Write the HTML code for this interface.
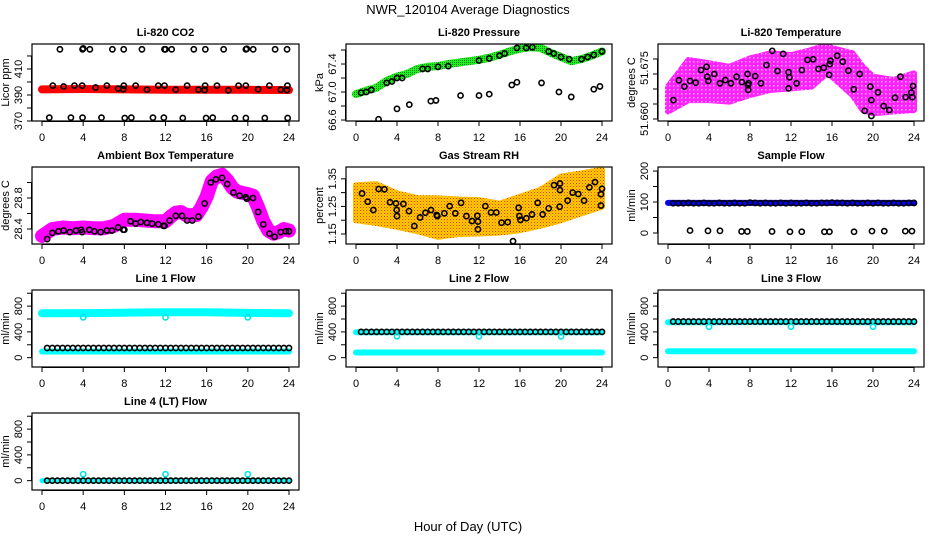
<!DOCTYPE html>
<html><head><meta charset="utf-8"><style>
html,body{margin:0;padding:0;background:#fff}
svg{display:block;font-family:"Liberation Sans",sans-serif}
</style></head><body>
<svg id="chart" width="936" height="540" viewBox="0 0 936 540" xmlns="http://www.w3.org/2000/svg">
<defs>
<pattern id="rhPat" width="3" height="3" patternUnits="userSpaceOnUse"><rect width="3" height="3" fill="#ffd000"/><rect width="1" height="1" fill="#ff3000"/><rect x="1.5" y="1.5" width="1" height="1" fill="#ff6000"/></pattern>
<pattern id="grPat" width="2" height="2" patternUnits="userSpaceOnUse"><rect width="2" height="2" fill="#22ee22"/><rect width="1" height="1" fill="#118811"/></pattern>
<pattern id="mgPat" width="4" height="4" patternUnits="userSpaceOnUse"><rect width="4" height="4" fill="#ff22ff"/><rect x="1" y="1" width="1.5" height="1.5" fill="#ffb0ff"/></pattern>
</defs>
<text x="468" y="14" text-anchor="middle" font-size="13">NWR_120104  Average Diagnostics</text>
<text x="468" y="531" text-anchor="middle" font-size="13">Hour of Day (UTC)</text>
</svg>
<script>
// ---------- data ----------
const hourTicks = [0,4,8,12,16,20,24];
const halfHours = [0.5,1,1.5,2,2.5,3,3.5,4,4.5,5,5.5,6,6.5,7,7.5,8,8.5,9,9.5,10,10.5,11,11.5,12,12.5,13,13.5,14,14.5,15,15.5,16,16.5,17,17.5,18,18.5,19,19.5,20,20.5,21,21.5,22,22.5,23,23.5,24];

// CO2
const co2BandHours = [0,4,8,12,16,20,24];
const co2BandValues = [394.3,394.6,394.3,394.0,394.0,394.0,393.8];
const co2MidHours = [1.05,2.1,3.15,3.9,5.2,6.3,7.4,7.9,7.95,9.1,10.2,11.3,11.9,13.0,14.1,15.2,15.8,15.85,17.0,18.1,19.1,19.8,21.0,22.1,23.2,23.8,23.85];
const co2MidValues = [397.2,396.5,397.2,397.2,395.7,397.2,394.9,394.4,397.2,397.2,394.1,397.2,397.2,394.1,397.2,394.1,393.8,397.2,397.2,393.6,397.2,397.2,394.4,397.2,394.1,393.8,397.2];
const co2HighHours = [1.74,3.94,4.0,4.65,6.84,7.94,9.71,11.9,12.0,12.6,14.75,15.87,17.65,19.81,19.9,20.52,22.65,23.81];
const co2HighValues = [425.1,425.1,425.8,425.1,425.1,425.1,425.1,425.1,425.1,425.1,425.1,425.1,425.1,425.1,425.5,425.1,425.1,425.1];
const co2LowHours = [0.71,2.81,3.94,5.78,8.04,8.68,10.78,11.84,13.68,15.94,16.59,18.75,19.81,21.65,23.87];
const co2LowValues = [372.6,372.6,372.6,372.6,372.3,372.6,372.6,372.6,372.3,372.3,372.6,372.3,372.3,372.3,372.3];

// Pressure
const presBandHours = [0,1,2,3,4,5,6,7,8,9,10,11,12,13,14,15,16,17,18,19,20,21,22,23,24];
const presBandValues = [66.97,67.02,67.06,67.16,67.22,67.26,67.33,67.36,67.37,67.40,67.42,67.44,67.46,67.49,67.53,67.58,67.62,67.64,67.63,67.56,67.50,67.44,67.47,67.52,67.58];
const presOnHours = [0.5,1,1.5,3,3.5,4,4.5,6.5,7,8,9,12,13,14,14.5,15.7,16.6,17.2,18.8,19.3,20,20.8,22,22.6,23.2,24];
const presOnValues = [66.99,67.0,67.03,67.13,67.15,67.2,67.2,67.33,67.33,67.36,67.37,67.45,67.48,67.52,67.55,67.63,67.63,67.64,67.58,67.55,67.5,67.47,67.47,67.5,67.53,67.58];
const presLowHours = [2.2,4.0,5.2,7.3,7.8,10.2,12.0,13.0,15.2,15.7,18.1,19.8,21.0,23.2,23.8];
const presLowValues = [66.61,66.76,66.82,66.87,66.88,66.95,66.95,66.97,67.1,67.14,67.13,67.0,66.93,67.04,67.08];

// Li-820 temperature
const tempBandHours = [0,2,4,6,8,10,12,14,15.5,16,18,19,20,22,24];
const tempBandUpper = [51.6708,51.6797,51.6786,51.6774,51.6802,51.6819,51.6813,51.6830,51.6847,51.6836,51.6819,51.6774,51.6741,51.6730,51.6752];
const tempBandLower = [51.6625,51.6663,51.6663,51.6658,51.6680,51.6697,51.6702,51.6708,51.6752,51.6741,51.6680,51.6630,51.6619,51.6625,51.6630];
const tempHours = [0.52,1.07,1.59,2.15,2.7,3.22,3.77,3.83,3.93,4.52,5.07,5.59,6.14,6.69,7.21,7.76,7.86,7.8,7.82,8.51,9.06,9.61,10.17,10.68,11.24,11.76,11.85,11.76,12.54,13.06,13.61,14.16,14.68,15.2,15.72,15.78,15.85,16.5,17.05,17.6,18.12,18.7,19.19,19.74,19.84,19.84,20.49,21.04,21.59,22.15,22.67,23.18,23.74,23.9,23.83];
const tempValues = [51.6663,51.6729,51.6708,51.6727,51.6721,51.6763,51.6774,51.6741,51.6727,51.6750,51.6719,51.6730,51.6719,51.6741,51.6723,51.6750,51.6719,51.6713,51.6697,51.6743,51.6719,51.6780,51.6827,51.6760,51.6817,51.6756,51.6739,51.6702,51.6719,51.6763,51.6797,51.6799,51.6767,51.6771,51.6747,51.6783,51.6794,51.6811,51.6791,51.6761,51.6699,51.6750,51.6627,51.6708,51.6663,51.6610,51.6689,51.6643,51.6630,51.6671,51.6741,51.6673,51.6688,51.6710,51.6673];

// Ambient box temperature
const ambBandHours = [0,1,2,3,4,5,6,7,8,9,10,11,12,12.5,13,13.5,14,15,15.5,16,16.5,17,17.5,18,18.5,19,20,20.5,21,21.5,22,22.5,23,23.5,24];
const ambBandValues = [28.31,28.40,28.42,28.41,28.42,28.41,28.41,28.44,28.52,28.52,28.51,28.50,28.50,28.56,28.61,28.62,28.58,28.58,28.68,28.82,29.02,29.08,29.10,29.03,28.93,28.88,28.85,28.83,28.68,28.50,28.38,28.34,28.36,28.40,28.38];
const ambHours = [0.5,1,1.6,2.1,2.7,3.3,3.8,3.9,4.6,5.1,5.7,6.3,6.8,7.4,7.9,8.0,8.6,9.1,9.6,10.2,10.7,11.3,11.8,11.9,12.4,13.0,13.6,14.1,14.6,15.2,15.8,16.4,16.9,17.5,18.0,18.6,19.2,19.8,19.9,20.5,21.0,21.5,22.1,22.6,23.2,23.7,24.0];
const ambValues = [28.27,28.35,28.37,28.38,28.36,28.38,28.39,28.36,28.39,28.37,28.36,28.38,28.38,28.42,28.39,28.39,28.50,28.47,28.49,28.48,28.47,28.46,28.44,28.44,28.51,28.57,28.57,28.51,28.51,28.56,28.73,29.00,29.04,29.06,28.98,28.87,28.83,28.81,28.79,28.80,28.62,28.46,28.34,28.30,28.36,28.37,28.37];

// Gas stream RH
const rhBandHours = [0,2,4,6,8,10,12,14,16,18,20,22,24];
const rhBandUpper = [1.327,1.33,1.297,1.28,1.279,1.275,1.273,1.26,1.285,1.31,1.358,1.37,1.382];
const rhBandLower = [1.20,1.19,1.176,1.16,1.14,1.15,1.152,1.155,1.164,1.18,1.20,1.225,1.249];
const rhHours = [0.59,1.14,1.69,2.21,2.77,3.32,3.9,3.97,4.0,4.62,5.17,5.69,6.25,6.77,7.32,7.87,7.94,8.62,9.14,9.69,10.25,10.77,11.32,11.84,11.9,11.9,12.62,13.17,13.69,14.2,14.8,15.32,15.87,15.94,16.04,16.62,17.17,17.73,18.21,18.8,19.32,19.87,19.9,19.9,20.65,21.14,21.69,22.25,22.77,23.32,23.9,24.0,23.9];
const rhValues = [1.297,1.267,1.237,1.313,1.312,1.265,1.261,1.237,1.215,1.259,1.233,1.179,1.210,1.227,1.237,1.219,1.215,1.225,1.251,1.225,1.263,1.215,1.197,1.216,1.195,1.167,1.251,1.228,1.228,1.191,1.193,1.124,1.245,1.215,1.201,1.207,1.221,1.263,1.221,1.243,1.327,1.249,1.333,1.309,1.271,1.300,1.295,1.271,1.319,1.338,1.294,1.314,1.253];

// Sample flow
const sampBandHours = [0,24];
const sampBandValues = [97,97];
const sampValues = [96,96,96,97,96,96,97,96,96,97,96,96,97,96,96,98,97,96,97,96,96,97,96,97,96,96,97,96,96,97,97,98,97,97,96,97,96,96,97,96,97,96,96,97,96,96,97,97];
const sampLowHours = [2.15,3.9,5.07,7.18,7.74,10.15,11.9,13.05,15.26,15.75,18.15,19.9,21.1,23.15,23.8];
const sampLowValues = [8,7,7,5,5,5,4,4,4,4,4,6,6,6,6];

// Line flows
const outlierHours = [4,12,20];
const line1HiHours = [0,4,8,12,16,20,24];
const line1HiValues = [690,692,698,705,705,695,690];
const line1LoValues = [95,95,95,95,95,95,95];
const line1Black = [150,150,150,150,150,150,150,150,150,150,150,150,150,150,150,150,150,150,150,150,150,150,150,150,150,150,150,150,150,150,150,150,150,150,150,150,150,150,150,150,150,150,150,150,150,150,150,150];
const line1Outliers = [625,625,625];
const line2HiValues = [395,395,395,395,395,395,395];
const line2LoValues = [80,80,80,80,80,80,80];
const line2Black = [400,400,400,400,400,400,400,400,400,400,400,400,400,400,400,400,400,400,400,400,400,400,400,400,400,400,400,400,400,400,400,400,400,400,400,400,400,400,400,400,400,400,400,400,400,400,400,400];
const line2Outliers = [330,330,330];
const line3HiValues = [548,550,552,552,552,550,550];
const line3LoValues = [100,100,100,100,100,100,100];
const line3Black = [560,560,560,560,560,560,560,560,560,560,560,560,560,560,560,560,560,560,560,560,560,560,560,560,560,560,560,560,560,560,560,560,560,560,560,560,560,560,560,560,560,560,560,560,560,560,560,560];
const line3Outliers = [480,480,480];
const line4CyanValues = [0,0,0,0,0,0,0];
const line4Black = [0,0,0,0,0,0,0,0,0,0,0,0,0,0,0,0,0,0,0,0,0,0,0,0,0,0,0,0,0,0,0,0,0,0,0,0,0,0,0,0,0,0,0,0,0,0,0,0];
const line4Outliers = [100,100,100];

// ---------- drawing ----------
const NS = 'http://www.w3.org/2000/svg';
const svg = document.getElementById('chart');
function mk(tag, attrs, parent){
  const e = document.createElementNS(NS, tag);
  for (const k in attrs) e.setAttribute(k, attrs[k]);
  (parent || svg).appendChild(e);
  return e;
}
function sx(p,h){ return p.L + 10 + h*(p.R - p.L - 20)/24; }
function sy(p,v){ return p.B - (v - p.ymin)/(p.ymax - p.ymin)*(p.B - p.T); }

function panel(p){
  const g = mk('g', {});
  
  
  p.g = g;
  const t = mk('text', {x:(p.L+p.R)/2, y:p.T-8, 'text-anchor':'middle', 'font-size':11, 'font-weight':'bold'}, g);
  t.textContent = p.title;
  
  
  const clip = mk('clipPath', {id:'clip-'+p.name}, g);
  mk('rect', {x:p.L, y:p.T, width:p.R-p.L, height:p.B-p.T}, clip);
  const plot = mk('g', {'clip-path':'url(#clip-'+p.name+')'}, g);
  
  
  p.plot = plot;
  const xa = mk('g', {stroke:'#000', 'stroke-width':1}, g);
  
  
  mk('line', {x1:sx(p,0), x2:sx(p,24), y1:p.B+0.5, y2:p.B+0.5}, xa);
  hourTicks.forEach(h => {
    mk('line', {x1:sx(p,h), x2:sx(p,h), y1:p.B, y2:p.B+5}, xa);
    const lt = mk('text', {x:sx(p,h), y:p.B+20, 'text-anchor':'middle', 'font-size':11, stroke:'none'}, xa);
    lt.textContent = h;
    
    
  });
  const ya = mk('g', {stroke:'#000', 'stroke-width':1}, g);
  
  
  mk('line', {x1:p.L-0.5, x2:p.L-0.5, y1:sy(p,p.ticks[0]), y2:sy(p,p.ticks[p.ticks.length-1])}, ya);
  p.ticks.forEach(v => mk('line', {x1:p.L-5, x2:p.L, y1:sy(p,v), y2:sy(p,v)}, ya));
  p.labels.forEach((v,i) => {
    const y = sy(p,v), x = p.L - 10;
    const lt = mk('text', {x:x, y:y, 'text-anchor':'middle', 'font-size':11, stroke:'none', transform:'rotate(-90 '+x+' '+y+')'}, ya);
    lt.textContent = p.labelText[i];
    
    
  });
  const yx = p.L - 23, yy = (p.T+p.B)/2;
  const yt = mk('text', {x:yx, y:yy, 'text-anchor':'middle', 'font-size':11, transform:'rotate(-90 '+yx+' '+yy+')'}, g);
  yt.textContent = p.ylab;
  
  
  const bx = mk('rect', {x:p.L, y:p.T, width:p.R-p.L, height:p.B-p.T, fill:'none', stroke:'#000', 'stroke-width':1.2}, g);
  
  
  return p;
}
function band(p, hours, vals, color, w, name){
  const d = hours.map((h,i) => (i?'L':'M') + sx(p,h).toFixed(1) + ' ' + sy(p,vals[i]).toFixed(1)).join(' ');
  const e = mk('path', {d:d, fill:'none', stroke:color, 'stroke-width':w, 'stroke-linecap':'round', 'stroke-linejoin':'round'}, p.plot);
  
  
}
function area(p, hours, up, lo, fill, name){
  let d = hours.map((h,i) => (i?'L':'M') + sx(p,h).toFixed(1) + ' ' + sy(p,up[i]).toFixed(1)).join(' ');
  for (let i = hours.length-1; i >= 0; i--) d += ' L' + sx(p,hours[i]).toFixed(1) + ' ' + sy(p,lo[i]).toFixed(1);
  const e = mk('path', {d:d+' Z', fill:fill, stroke:fill, 'stroke-width':6, 'stroke-linejoin':'round'}, p.plot);
  
  
}
function pts(p, hours, vals, color, name){
  hours.forEach((h,i) => {
    const c = mk('circle', {cx:sx(p,h), cy:sy(p,vals[i]), r:2.6, fill:'none', stroke:color, 'stroke-width':1.6}, p.plot);
    
    
  });
}

const C1 = [32,299], C2 = [346,612], C3 = [658,924];
const R = [44,167,290,413];
const flowTicks = [0,200,400,600,800,1000], flowLabels = [0,400,800], flowText = ['0','400','800'];

const pCO2 = panel({name:'co2', title:'Li-820 CO2', ylab:'Licor ppm', L:C1[0], R:C1[1], T:R[0], B:R[0]+77, ymin:370, ymax:429.2, ticks:[370,380,390,400,410,420], labels:[370,390,410], labelText:['370','390','410']});
band(pCO2, co2BandHours, co2BandValues, '#ff0000', 8, 'co2-band');
pts(pCO2, co2MidHours, co2MidValues, '#000', 'co2-point');
pts(pCO2, co2HighHours, co2HighValues, '#000', 'co2-high-point');
pts(pCO2, co2LowHours, co2LowValues, '#000', 'co2-low-point');

const pPres = panel({name:'pressure', title:'Li-820 Pressure', ylab:'kPa', L:C2[0], R:C2[1], T:R[0], B:R[0]+77, ymin:66.586, ymax:67.686, ticks:[66.6,66.8,67.0,67.2,67.4,67.6], labels:[66.6,67.0,67.4], labelText:['66.6','67.0','67.4']});
band(pPres, presBandHours, presBandValues, 'url(#grPat)', 8, 'pressure-band');
pts(pPres, presOnHours, presOnValues, '#000', 'pressure-point');
pts(pPres, presLowHours, presLowValues, '#000', 'pressure-low-point');

const pTemp = panel({name:'li820-temperature', title:'Li-820 Temperature', ylab:'degrees C', L:C3[0], R:C3[1], T:R[0], B:R[0]+77, ymin:51.65933, ymax:51.685, ticks:[51.660,51.665,51.670,51.675,51.680], labels:[51.660,51.677], labelText:['51.660','51.675']});
area(pTemp, tempBandHours, tempBandUpper, tempBandLower, 'url(#mgPat)', 'temperature-cloud');
pts(pTemp, tempHours, tempValues, '#000', 'temperature-point');

const pAmb = panel({name:'ambient', title:'Ambient Box Temperature', ylab:'degrees C', L:C1[0], R:C1[1], T:R[1], B:R[1]+77, ymin:28.2065, ymax:29.2, ticks:[28.4,28.6,28.8,29.0], labels:[28.4,28.8], labelText:['28.4','28.8']});
band(pAmb, ambBandHours, ambBandValues, '#ff00ff', 14, 'ambient-band');
pts(pAmb, ambHours, ambValues, '#000', 'ambient-point');

const pRH = panel({name:'rh', title:'Gas Stream RH', ylab:'percent', L:C2[0], R:C2[1], T:R[1], B:R[1]+77, ymin:1.1138, ymax:1.3928, ticks:[1.15,1.20,1.25,1.30,1.35], labels:[1.15,1.25,1.35], labelText:['1.15','1.25','1.35']});
area(pRH, rhBandHours, rhBandUpper, rhBandLower, 'url(#rhPat)', 'rh-cloud');
pts(pRH, rhHours, rhValues, '#000', 'rh-point');

const pSamp = panel({name:'sample-flow', title:'Sample Flow', ylab:'ml/min', L:C3[0], R:C3[1], T:R[1], B:R[1]+77, ymin:-35.5, ymax:213, ticks:[0,50,100,150,200], labels:[0,100,200], labelText:['0','100','200']});
band(pSamp, sampBandHours, sampBandValues, '#0000ff', 6, 'sample-band');
pts(pSamp, halfHours, sampValues, '#000', 'sample-point');
pts(pSamp, sampLowHours, sampLowValues, '#000', 'sample-low-point');

const pL1 = panel({name:'line1-flow', title:'Line 1 Flow', ylab:'ml/min', L:C1[0], R:C1[1], T:R[2], B:R[2]+77, ymin:-145, ymax:1050, ticks:flowTicks, labels:flowLabels, labelText:flowText});
band(pL1, line1HiHours, line1HiValues, '#00ffff', 8, 'line1-high-band');
band(pL1, line1HiHours, line1LoValues, '#00ffff', 6, 'line1-low-band');
pts(pL1, halfHours, line1Black, '#000', 'line1-point');
pts(pL1, outlierHours, line1Outliers, '#00e5e5', 'line1-outlier');

const pL2 = panel({name:'line2-flow', title:'Line 2 Flow', ylab:'ml/min', L:C2[0], R:C2[1], T:R[2], B:R[2]+77, ymin:-145, ymax:1050, ticks:flowTicks, labels:flowLabels, labelText:flowText});
band(pL2, line1HiHours, line2HiValues, '#00ffff', 6, 'line2-high-band');
band(pL2, line1HiHours, line2LoValues, '#00ffff', 6, 'line2-low-band');
pts(pL2, halfHours, line2Black, '#000', 'line2-point');
pts(pL2, outlierHours, line2Outliers, '#00e5e5', 'line2-outlier');

const pL3 = panel({name:'line3-flow', title:'Line 3 Flow', ylab:'ml/min', L:C3[0], R:C3[1], T:R[2], B:R[2]+77, ymin:-145, ymax:1050, ticks:flowTicks, labels:flowLabels, labelText:flowText});
band(pL3, line1HiHours, line3HiValues, '#00ffff', 6, 'line3-high-band');
band(pL3, line1HiHours, line3LoValues, '#00ffff', 6, 'line3-low-band');
pts(pL3, halfHours, line3Black, '#000', 'line3-point');
pts(pL3, outlierHours, line3Outliers, '#00e5e5', 'line3-outlier');

const pL4 = panel({name:'line4-flow', title:'Line 4 (LT) Flow', ylab:'ml/min', L:C1[0], R:C1[1], T:R[3], B:R[3]+77, ymin:-145, ymax:1050, ticks:flowTicks, labels:flowLabels, labelText:flowText});
band(pL4, line1HiHours, line4CyanValues, '#00ffff', 5, 'line4-band');
pts(pL4, halfHours, line4Black, '#000', 'line4-point');
pts(pL4, outlierHours, line4Outliers, '#00e5e5', 'line4-outlier');
</script>
</body></html>
